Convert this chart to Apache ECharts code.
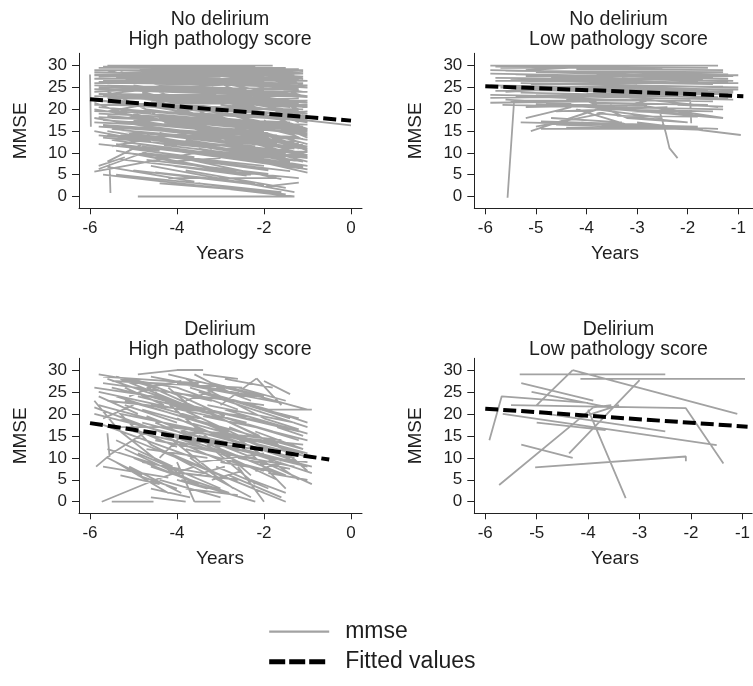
<!DOCTYPE html>
<html><head><meta charset="utf-8">
<script src="https://cdn.jsdelivr.net/npm/echarts@6/dist/echarts.min.js"></script>
<style>html,body{margin:0;padding:0;background:#fff}#c{width:753px;height:686px}</style>
</head><body><div id="c"></div>
<script>
// ---------- data ----------
const panelTitles = [
  ["No delirium", "High pathology score"],
  ["No delirium", "Low pathology score"],
  ["Delirium", "High pathology score"],
  ["Delirium", "Low pathology score"]
];
const xTicksWide = [-6, -4, -2, 0];
const xTicksNarrow = [-6, -5, -4, -3, -2, -1];
const yTicks = [0, 5, 10, 15, 20, 25, 30];
const seriesNames = ["mmse", "Fitted values"];
const xTitle = "Years";
const yTitle = "MMSE";

// individual trajectories: [x1,y1,x2,y2,...] (years, MMSE)
const trajNoDelHigh = [
  [-5.0,30,-1.8,30],[-5.9,29,-1.1,29],[-5.6,30,-3.2,30],[-4.4,30,-1.5,29],[-5.9,28,-1.3,28],
  [-5.8,27.5,-2.0,29],[-5.7,27,-1.2,27],[-5.5,29,-2.5,28],[-5.9,26,-1.1,26],[-5.6,28,-1.6,25],
  [-5.3,26.5,-1.2,25],[-5.8,25,-1.0,24],[-5.4,24.5,-1.1,23],[-5.9,24,-2.2,26],[-5.2,27,-1.4,22],
  [-5.9,23,-1.2,21.5],[-5.6,22.5,-1.0,22],[-5.9,22,-3.8,20.5,-1.5,19],[-5.7,21,-1.1,20],[-5.5,20,-1.3,18],
  [-4.9,29.5,-1.9,24],[-4.2,28.5,-1.2,24.5],[-5.0,23,-1.0,21],[-3.8,29,-1.1,27.5],[-5.3,28.5,-3.0,23,-1.6,21],
  [-5.8,19,-1.4,17],[-5.5,18,-1.0,16.5],[-5.1,21.5,-1.2,15],[-4.6,26,-1.1,19],[-5.7,17.5,-2.0,15],
  [-6.0,28,-5.98,16],[-5.9,20,-1.3,13],[-5.4,16,-1.2,12],[-5.6,15,-2.5,10],[-5.3,14,-1.1,10],
  [-4.8,24,-1.0,14],[-4.5,22,-1.2,11],[-5.0,19,-1.0,9],[-5.8,14,-3.5,12,-1.4,8],[-4.2,27,-1.0,18],
  [-3.5,30,-1.4,26],[-3.0,29.5,-1.1,23],[-5.2,12.5,-1.0,7],[-4.7,14,-1.1,8],[-5.5,13,-2.8,9],
  [-4.0,20,-1.0,12],[-3.6,24,-1.0,15.5],[-4.4,18,-1.2,9.5],[-5.9,18,-4.0,15,-2.2,13],[-3.2,27,-1.2,17],
  [-2.8,25,-1.1,20.5],[-5.8,12,-4.4,10.5],[-5.9,5.7,-4.0,9.2,-3.2,10.7],[-5.8,6.3,-4.5,11],[-5.7,5,-1.3,0],
  [-5.4,5,-1.6,1],[-4.9,0,-1.3,0],[-5.55,7.5,-5.53,0.8],[-5.0,6,-2.0,2.5],[-4.2,4.2,-1.7,4.2],
  [-1.95,2.3,-1.2,3.2],[-4.6,7,-1.3,1],[-3.0,10,-1.0,5.5],[-3.5,11,-1.0,7],[-2.6,12,-1.0,8],
  [-4.0,9,-1.6,4],[-5.3,8.5,-2.3,5],[-3.8,13,-1.1,9],[-1.5,18,0,16.3],[-5.6,8,-4.8,12],
  [-2.2,15,-1.0,10.5],[-4.9,16.5,-2.0,12],[-5.3,22,-2.5,17],[-4.7,20,-1.5,16],[-3.9,25,-2.0,20],
  [-4.3,23.5,-1.2,19],[-5.6,23.5,-3.3,26.5],[-2.5,29,-1.2,28.5],[-5.4,10.5,-3.0,6],[-4.8,10,-2.0,7],
  [-3.3,16,-1.0,13],[-5.0,25.5,-2.2,22],[-4.5,28,-2.6,26],[-3.0,21,-1.0,19],[-5.8,16,-2.8,14],
  [-5.2,17,-3.1,18.5,-1.3,14],[-4.1,12,-1.8,10],[-3.4,8,-1.9,6],[-5.9,27,-3.0,27.5],[-5.5,26,-2.1,27],
  [-4.0,16,-1.6,13.5],[-3.7,19,-1.1,17.5],[-4.6,30,-2.3,29.5],[-5.1,28,-1.7,28],[-2.0,29,-1.1,25.5],
  [-2.3,19,-1.0,17],[-5.7,24.5,-4.5,19],[-4.5,9,-2.6,5.5],[-1.9,14,-1.0,11],[-5.9,21.5,-4.8,17.5],
  [-2.4,8.5,-1.0,6.2],[-3.8,6,-1.5,2],[-4.7,25,-3.6,21],[-3.4,22,-1.4,20.5],[-5.6,19.5,-4.2,22],
  [-4.9,13,-3.3,15],[-2.9,13,-1.3,11.5],[-3.1,18,-1.9,16.5],[-5.5,11.5,-4.3,14],[-2.7,16,-1.2,14.5],
  [-5.8,29.5,-1.5,29.5],[-5.2,29,-1.3,28.5],[-5.9,28.5,-2.8,28],[-4.8,28.5,-1.2,27],[-5.7,26.5,-1.4,26.5],
  [-5.1,26,-1.0,25.5],[-5.9,25.5,-2.4,24.5],[-5.5,25,-1.5,23.5],[-4.9,24.5,-1.3,23.5],[-5.8,23.5,-1.0,23],
  [-5.3,23.5,-1.8,22.5],[-5.9,21,-2.0,21.5],[-4.6,22,-1.1,21],[-5.4,21,-1.6,20],[-3.9,27,-1.5,27],
  [-4.3,26.5,-1.9,25.5],[-3.4,28,-1.2,26],[-2.9,27,-1.1,24],[-5.0,27.5,-3.4,29],[-4.0,24,-1.3,24],
  [-3.7,22,-1.2,22.5],[-2.6,23,-1.0,21.5],[-5.6,29,-4.2,25],[-4.4,29,-2.0,25],[-5.2,24,-3.7,25.5],
  [-3.2,25,-1.3,23],[-2.2,27,-1.0,26.5],[-2.9,30,-1.9,29],[-1.9,28,-1.1,27],[-1.8,24,-1.0,23],
  [-5.8,20.5,-2.9,18],[-5.6,18.5,-1.6,15],[-5.3,19.5,-1.1,16],[-5.9,17,-3.8,16,-1.7,14],[-5.0,17.5,-1.4,12.5],
  [-4.7,18.5,-1.0,15],[-4.2,20.5,-1.5,17.5],[-3.8,21,-1.0,18.5],[-5.5,15.5,-1.3,11],[-5.2,15,-2.2,11.5],
  [-4.6,16,-1.0,11.5],[-4.3,17,-1.9,14.5],[-3.9,18,-1.2,15.5],[-5.7,13.5,-2.0,10],[-5.0,13.5,-1.5,9],
  [-4.4,14.5,-1.0,9.5],[-3.8,15,-1.3,12.5],[-3.5,17,-1.0,14.5],[-5.4,12,-2.4,8.5],[-4.8,11.5,-1.2,6.5],
  [-4.2,13,-1.4,10.5],[-3.6,14,-1.1,11],[-3.2,12,-1.0,9],[-2.8,19,-1.1,18],[-2.5,17,-1.0,15.5],
  [-2.2,21,-1.2,19.5],[-4.9,22.5,-2.7,20],[-4.1,19,-2.5,18.5],[-5.9,15,-4.6,12.5],[-5.1,11,-3.6,9],
  [-2.0,17.5,-1.1,13],[-3.0,15,-1.9,13.5],[-4.5,11,-2.3,9.5],[-5.7,22,-3.4,19.5],[-2.4,24,-1.2,20],
  [-3.6,20,-2.6,16],[-1.8,19,-1.0,19.5],[-4.0,23,-2.8,23],[-1.6,16,-1.0,13.5],[-2.1,12.5,-1.0,9.5],
  [-3.9,10.5,-1.1,6.8],[-2.8,9.5,-1.3,7.5],[-4.5,5.5,-2.2,3],[-3.5,3,-1.5,0.5],[-5.8,7,-5.2,9],
  [-4.2,8,-3.0,8.8],
  [-5.7,29.8,-2.2,29.8],[-5.3,29.5,-1.2,29.2],[-4.7,29.2,-1.6,28.2],[-5.9,27.8,-1.8,27.8],[-5.4,27.3,-1.1,28.2],
  [-5.0,26.8,-1.6,26],[-5.8,26.3,-2.7,26.8],[-4.4,25.6,-1.2,26],[-5.6,25.4,-1.3,24.6],[-5.2,24.8,-2.0,24.2],
  [-3.6,26.5,-1.0,25],[-3.1,28.6,-1.4,27.4],[-2.6,27.8,-1.1,28.6],[-4.1,29.6,-2.4,27.2],
  [-5.9,24.6,-3.1,23.6],[-5.7,23.2,-1.5,22],[-5.3,22.6,-1.0,20.5],[-4.8,23.6,-1.8,21.2],[-5.6,21.6,-2.3,20.2],
  [-5.0,20.8,-1.1,18.6],[-4.4,24.5,-2.1,23.6],[-3.9,23.2,-1.4,21.8],[-3.3,24.2,-1.0,22.8],[-4.6,21.2,-2.9,19.6],
  [-5.8,18.2,-1.8,16.2],[-5.4,17.2,-1.5,13.6],[-5.1,18.6,-2.6,14.6],[-5.7,16.4,-1.1,13.2],[-5.3,15.2,-1.7,12.2],
  [-4.9,15.6,-1.2,13.6],[-4.5,17.6,-2.2,16.6],[-4.1,18.2,-1.1,14.2],[-3.6,18.6,-1.6,16.6],[-5.6,14.2,-3.0,11.2],
  [-5.1,14.6,-1.9,9.4],[-4.6,13.2,-2.5,11.2],[-4.0,14.2,-1.2,12.2],[-3.4,13.6,-1.5,9.8],[-5.4,13.6,-4.0,11.6],
  [-4.3,11.8,-1.6,8.6],[-3.7,11.8,-1.3,8.2],[-2.9,11,-1.0,10.2],[-2.3,13.8,-1.1,11.8],[-3.2,19.6,-1.4,15.8],
  [-2.7,20.5,-1.0,17.8],[-2.0,22.5,-1.0,20.6],[-1.9,16.2,-1.0,15.2],[-5.9,19.6,-4.6,19.2],[-5.2,19,-3.6,16],
  [-5.2,10,-2.8,7.6],[-4.7,8.4,-1.9,5.2],[-4.1,7,-2.4,4.8],[-3.3,6.2,-1.2,4.2],[-2.9,7.6,-1.4,5.8],
  [-5.6,6.8,-3.6,3.4],[-4.4,3,-2.6,1.6],[-2.5,10.6,-1.0,8.8]
];
const trajNoDelLow = [
  [-5.9,30,-1.4,30],[-5.9,29,-1.2,28],[-5.7,29.5,-2.5,29.5],[-5.4,28,-1.2,27],[-5.5,27,-1.3,26],
  [-5.3,26,-1.0,25],[-5.9,25.5,-1.0,24.5],[-5.4,24.5,-1.5,23.5],[-5.9,23.3,-1.1,22.2],[-5.6,24,-3.0,25.5],
  [-5.0,28.5,-1.5,27.5],[-5.66,21,-1.3,20],[-5.5,22,-1.95,22,-1.93,16.8],[-4.5,21,-1.3,18],[-3.0,17,-0.95,14.1],
  [-5.1,15,-3.8,20,-2.5,18],[-5.0,16,-3.7,19,-2.0,17],[-5.3,17,-1.8,16],[-4.9,15.5,-2.2,15.5],[-4.6,16.5,-1.7,15.3],
  [-5.56,-0.3,-5.43,22],[-2.56,19.8,-2.43,14.5,-2.36,11.1,-2.2,8.8],[-4.0,22,-3.2,18,-2.0,17],[-3.8,19,-2.8,22],[-4.3,18,-3.5,21],
  [-5.2,20.5,-3.0,21,-1.3,18],[-3.5,23,-1.4,20.5],[-4.8,21.5,-2.6,19.5],[-5.8,26.5,-1.7,27],[-4.2,20,-3.2,16.5],
  [-3.9,21.5,-1.6,21],[-5.8,24.2,-4.0,24.6],[-2.9,22.5,-1.2,22.5],[-5.2,29,-3.5,30],[-4.7,27.5,-1.8,26.5],
  [-3.3,27,-1.1,26.5],
  [-5.8,29.8,-1.6,29.5],[-5.6,28.8,-1.3,28.5],[-5.9,28.2,-1.5,27.2],[-5.2,27.6,-1.1,27.6],[-5.8,27.2,-2.2,26.8],
  [-5.4,26.5,-1.5,25.8],[-5.1,25.8,-1.2,26.2],[-5.7,25,-1.6,24.2],[-5.5,24.8,-1.1,23.8],[-5.3,23.8,-1.4,22.8],
  [-5.9,22.6,-2.0,23.2],[-5.0,23.2,-1.2,23.5],[-4.5,25.2,-1.3,25.2],[-4.2,29.2,-1.3,29],[-3.8,28,-1.0,27.8],
  [-4.9,26.8,-2.6,28],[-5.4,23,-3.0,22],[-4.4,22.4,-1.5,21.8],[-5.9,21.5,-3.8,21.8],[-3.2,26,-1.0,26],
  [-2.8,24,-1.1,24.2],[-4.0,23.5,-2.0,24],[-3.6,20,-1.5,19.5],[-4.6,19.5,-2.4,20.5],[-3.4,18.5,-1.8,18.3],
  [-4.1,17,-2.9,15.8],[-2.5,16,-1.4,15.5],[-5.2,18,-4.3,20.5],
  [-5.0,21.2,-2.8,20.8],[-4.7,18,-3.3,17],[-4.9,17.2,-2.6,16.4],[-3.1,19.5,-1.9,19],[-2.2,21,-1.3,20.6],
  [-5.6,22.2,-4.3,21.4],[-3.7,16.2,-2.1,15.8],[-4.4,15.8,-3.0,15.6]
];
const trajDelHigh = [
  [-5.8,29,-4.0,26,-2.6,21],[-5.7,27,-2.0,22],[-5.6,28,-3.2,20,-1.2,14],[-4.9,29,-4.0,30,-3.4,30],[-4.2,29,-2.5,25,-1.0,21],
  [-2.1,21,-0.9,21],[-5.5,26,-1.5,17],[-5.9,20,-3.5,14,-1.0,8],[-5.8,22,-1.3,10],[-5.4,24,-2.8,16],
  [-5.2,23,-1.1,12],[-4.8,27,-2.1,15],[-3.8,28,-2.0,19],[-3.0,22,-2.17,28.1],[-2.17,28.1,-1.6,22],
  [-5.6,15.6,-5.55,10.2],[-5.86,8,-5.5,11,-4.7,16],[-5.73,0,-4.5,5,-3.6,8],[-5.5,0,-4.54,0],[-3.6,0,-3.0,0],
  [-3.2,14,-0.9,6.5],[-2.5,12,-0.9,8],[-4.5,18,-1.5,6],[-5.0,14,-3.0,6,-2.0,2],[-4.4,12,-2.5,4,-1.5,0],
  [-4.0,9,-3.6,0],[-3.9,5,-2.2,0],[-2.6,8,-2.0,0],[-5.3,19,-2.5,10],[-5.0,10,-3.5,4],
  [-4.6,8,-2.8,2],[-4.8,21,-3.0,16,-1.1,11],[-3.5,25,-1.0,17],[-3.2,27,-2.0,24],[-4.5,25,-3.0,12,-2.3,6],
  [-5.2,26,-4.3,22],[-3.9,20,-1.7,11],[-3.6,17,-1.2,9],[-4.3,15,-2.9,9],[-5.6,12,-4.0,7],
  [-5.4,9,-4.2,2],[-4.1,22,-1.9,12],[-3.0,19,-1.5,12],[-2.7,15,-1.2,5],[-2.3,11,-1.5,3],
  [-2.0,9,-0.9,4],[-1.8,14,-1.0,7],[-5.8,24,-4.9,20],[-5.1,17,-4.0,12.5],[-4.7,12,-3.3,10],
  [-3.4,11,-2.0,7],[-4.2,26,-3.6,21],[-2.6,18,-1.0,14],[-3.3,22,-1.3,18],[-5.4,21,-4.6,13,-4.0,10],
  [-4.9,24,-2.4,18],[-3.1,8,-1.9,3],[-1.7,17,-1.1,15],[-5.5,17,-3.8,17],[-2.4,13,-1.4,10],
  [-3.7,14,-2.2,12],[-4.4,10,-3.9,15],[-2.9,28,-1.8,26],[-3.8,23,-3.0,26],[-5.0,28,-3.9,24],
  [-1.6,20,-1.0,18],[-4.0,19,-2.8,14],[-3.2,5,-2.5,7],[-2.2,7,-1.6,9],[-5.3,6,-4.4,4],
  [-4.6,3,-3.7,1],[-2.0,27.5,-1.4,24.5],[-5.7,19,-5.0,22],[-3.4,29,-2.6,28],
  [-5.7,28.5,-3.5,27],[-5.5,27.5,-2.5,26],[-5.3,28,-3.8,22],[-5.9,26,-4.2,23.5],[-4.6,28.5,-2.2,24],
  [-4.0,27,-1.6,22.5],[-3.6,29,-2.8,25],[-5.8,25,-3.0,19],[-5.6,23,-2.4,19.5],[-5.0,25,-1.8,16],
  [-4.4,23.5,-1.2,16],[-3.7,26,-1.4,19],[-5.9,21.5,-3.3,12],[-5.3,20,-1.8,13],[-4.7,19.5,-2.0,9],
  [-4.2,17,-1.6,14],[-3.9,16,-1.1,13],[-5.7,17.5,-3.6,10],[-5.0,16,-2.6,10.5],[-4.5,14,-1.3,8],
  [-3.8,12,-1.5,6],[-3.3,16,-0.9,10],[-2.9,21,-1.0,15.5],[-2.4,22,-1.2,19],[-5.4,14,-4.1,8],
  [-4.9,11,-3.0,3],[-4.3,7,-2.6,5],[-3.5,9,-2.0,11],[-3.0,11,-1.7,5],[-2.8,6,-1.6,1],
  [-5.6,10,-4.8,6],[-5.1,8,-3.9,2],[-4.0,5,-3.3,3],[-2.2,16,-1.1,12],[-1.9,10,-1.0,9],
  [-3.4,19.5,-2.2,17],[-4.8,18,-3.4,14.5],[-4.1,25,-3.2,23],[-2.6,26,-1.5,23],[-5.2,22,-4.0,18],
  [-3.0,24,-1.9,21],[-2.0,19,-1.2,16.5],[-3.6,6,-2.9,8],[-4.6,1,-3.8,0],
  [-5.7,8,-4.2,5.5],[-5.2,12,-3.7,5],[-4.8,9,-3.4,6.5],[-4.2,11,-2.3,1],[-3.7,10,-2.7,3],
  [-3.3,13,-2.2,4],[-3.0,9,-1.8,7],[-2.6,10,-1.4,7.5],[-2.3,5,-1.5,2],[-1.9,6.5,-1.0,5],
  [-4.9,6,-4.0,3],[-4.4,5,-3.0,1],[-3.8,3,-2.6,1.5],[-5.3,16,-4.4,9],[-4.1,14,-3.2,7],
  [-3.5,15,-2.6,13],[-2.8,17,-1.3,11],[-2.1,14,-1.0,11],[-4.6,22,-3.5,19],[-3.9,24,-2.9,19.5],
  [-5.4,28.5,-4.5,26],[-4.7,26,-3.9,27.5],[-5.9,23,-5.4,17],[-5.1,24,-4.6,26],[-3.1,26,-2.3,23]
];
const trajDelLow = [
  [-5.33,29,-2.5,29],[-4.15,28,-0.95,28],[-4.3,30,-1.1,20],[-5.73,3.8,-3.9,21.5,-3.55,22],
  [-5.92,14,-5.68,24,-4.0,22.5],[-5.3,27,-3.9,23],[-5.1,25,-3.6,21.5],[-5.3,13,-4.3,10],
  [-5.03,7.8,-2.1,10.3,-2.1,9.2],[-4.37,11,-3.0,27.7],[-4.0,21,-3.27,0.8],[-5.5,22,-2.1,21.3,-1.37,8.7],
  [-5.66,20,-1.5,12.9],[-4.8,20,-2.5,16],[-5.0,18,-3.66,16.3],[-4.2,19,-3.4,22],[-5.0,22,-4.3,30]
];

// fitted regression lines: [[x0,y0],[x1,y1]]
const fitNoDelHigh = [[-6, 22.3], [0, 17.4]];
const fitNoDelLow  = [[-6, 25.3], [-0.9, 23.0]];
const fitDelHigh   = [[-6, 17.9], [-0.5, 9.6]];
const fitDelLow    = [[-6, 21.2], [-0.9, 17.1]];

// ---------- layout (styles / positions) ----------
const FONT = '"Liberation Sans", Arial, sans-serif';
const TXT = '#1e1e1e';
const GRAY = '#a2a2a2';
const panels = [
  {traj: trajNoDelHigh, fit: fitNoDelHigh, xt: xTicksWide,   grid: {left: 79,    top: 53.3,  width: 283,   height: 155}, xr: [-6.253, 0.253],  yr: [-2.71, 32.84], title: [220, 19.3, 39.3],  xname: [220, 253.7], yname: [21, 130.8]},
  {traj: trajNoDelLow,  fit: fitNoDelLow,  xt: xTicksNarrow, grid: {left: 474.3, top: 53.3,  width: 278.7, height: 155}, xr: [-6.217, -0.709], yr: [-2.71, 32.84], title: [618.5, 19.3, 39.3], xname: [615, 253.7], yname: [416, 130.8]},
  {traj: trajDelHigh,   fit: fitDelHigh,   xt: xTicksWide,   grid: {left: 79,    top: 358.3, width: 283,   height: 155}, xr: [-6.253, 0.253],  yr: [-2.64, 32.67], title: [220, 330, 349.5],  xname: [220, 558.3], yname: [21, 435.8]},
  {traj: trajDelLow,    fit: fitDelLow,    xt: xTicksNarrow, grid: {left: 474.3, top: 358.3, width: 278.7, height: 155}, xr: [-6.213, -0.812], yr: [-2.64, 32.67], title: [618.5, 330, 349.5], xname: [615, 558.3], yname: [416, 435.8]}
];

function toSeriesData(trajs) {
  const out = [];
  trajs.forEach(t => {
    for (let i = 0; i < t.length; i += 2) out.push([t[i], t[i + 1]]);
    out.push(['-', '-']);
  });
  return out;
}

const grids = [], xAxes = [], yAxes = [], series = [], graphics = [];
panels.forEach((p, i) => {
  grids.push(Object.assign({containLabel: false}, p.grid));
  xAxes.push({
    type: 'value', gridIndex: i, min: p.xr[0], max: p.xr[1],
    axisLine: {show: true, onZero: false, lineStyle: {color: '#222', width: 1}},
    axisTick: {show: true, length: 6, customValues: p.xt, lineStyle: {color: '#222'}},
    axisLabel: {show: true, customValues: p.xt, margin: 12, fontSize: 17, color: TXT, fontFamily: FONT},
    splitLine: {show: false}
  });
  yAxes.push({
    type: 'value', gridIndex: i, min: p.yr[0], max: p.yr[1],
    axisLine: {show: true, onZero: false, lineStyle: {color: '#222', width: 1}},
    axisTick: {show: true, length: 7, customValues: yTicks, lineStyle: {color: '#222'}},
    axisLabel: {show: true, customValues: yTicks, margin: 12, fontSize: 17, color: TXT, fontFamily: FONT},
    splitLine: {show: false}
  });
  series.push({
    name: seriesNames[0], type: 'line', xAxisIndex: i, yAxisIndex: i,
    data: toSeriesData(p.traj), symbol: 'none', showSymbol: false, connectNulls: false,
    lineStyle: {color: GRAY, width: 1.8}, itemStyle: {color: GRAY},
    silent: true, z: 2
  });
  series.push({
    name: seriesNames[1], type: 'line', xAxisIndex: i, yAxisIndex: i,
    data: p.fit, symbol: 'none', showSymbol: false,
    lineStyle: {color: '#000', width: 4, type: [13, 5]}, itemStyle: {color: '#000'},
    silent: true, z: 3
  });
  graphics.push(
    {type: 'text', x: p.title[0], y: p.title[1], style: {text: panelTitles[i][0], font: '19.5px ' + FONT, fill: TXT, align: 'center', verticalAlign: 'middle'}},
    {type: 'text', x: p.title[0], y: p.title[2], style: {text: panelTitles[i][1], font: '19.5px ' + FONT, fill: TXT, align: 'center', verticalAlign: 'middle'}},
    {type: 'text', x: p.xname[0], y: p.xname[1], style: {text: xTitle, font: '19px ' + FONT, fill: TXT, align: 'center', verticalAlign: 'middle'}},
    {type: 'text', x: p.yname[0], y: p.yname[1], rotation: Math.PI / 2, style: {text: yTitle, font: '19px ' + FONT, fill: TXT, align: 'center', verticalAlign: 'middle'}}
  );
});

const chart = echarts.init(document.getElementById('c'), null, {renderer: 'canvas'});
chart.setOption({
  animation: false,
  backgroundColor: '#fff',
  grid: grids, xAxis: xAxes, yAxis: yAxes, series: series,
  legend: {
    data: [
      {name: seriesNames[0], itemStyle: {opacity: 0}, lineStyle: {width: 2.2, color: GRAY}},
      {name: seriesNames[1], itemStyle: {opacity: 0}, lineStyle: {width: 5, color: '#000', type: [16, 4]}}
    ],
    orient: 'vertical', left: 266.7, top: 617.7, padding: 0,
    itemWidth: 60, itemHeight: 14, itemGap: 2,
    itemStyle: {opacity: 0},
    textStyle: {fontSize: 23, fontFamily: FONT, color: TXT, lineHeight: 28, padding: [0, 0, 0, 11]},
    selectedMode: false
  },
  graphic: graphics
});
</script></body></html>
